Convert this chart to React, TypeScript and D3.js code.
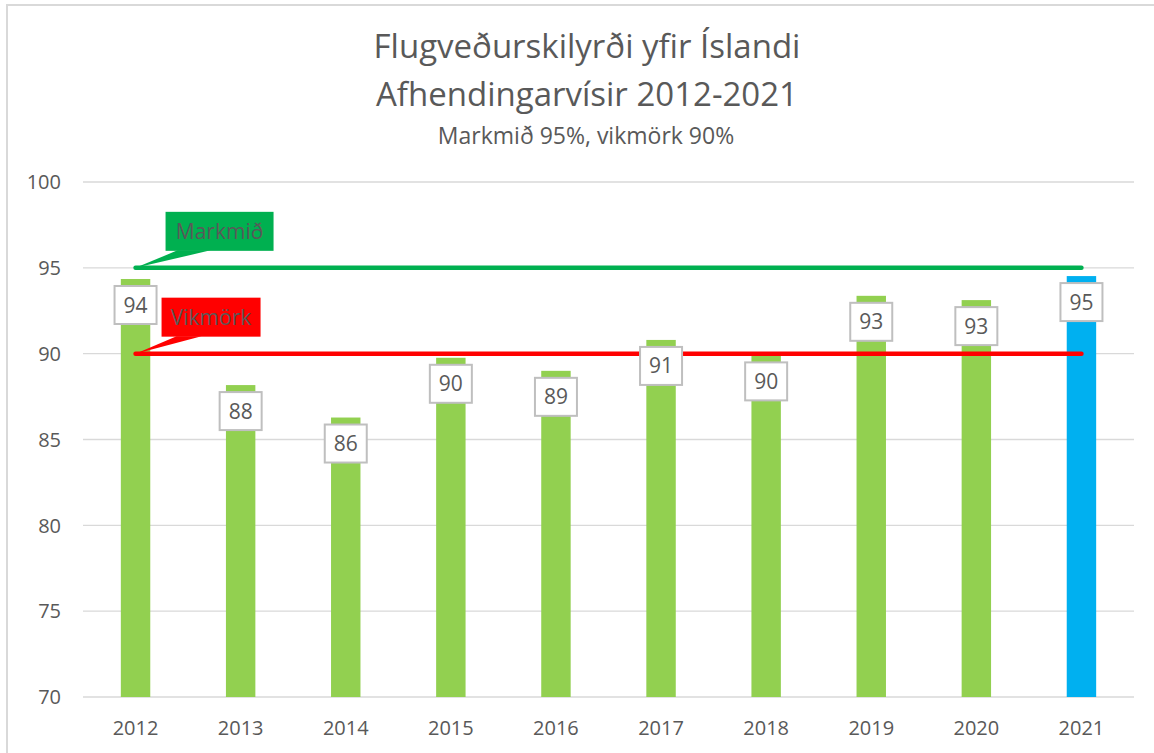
import React from "react";
import * as d3 from "d3";

const years = ["2012", "2013", "2014", "2015", "2016", "2017", "2018", "2019", "2020", "2021"];
const values = [94.35, 88.17, 86.28, 89.76, 89.0, 90.8, 89.9, 93.37, 93.12, 94.52];
const valueLabels = ["94", "88", "86", "90", "89", "91", "90", "93", "93", "95"];
const yTicks = [70, 75, 80, 85, 90, 95, 100];
const targetValue = 95;
const limitValue = 90;
const titleLines = ["Flugveðurskilyrði yfir Íslandi", "Afhendingarvísir 2012-2021"];
const subtitle = "Markmið 95%, vikmörk 90%";

const W = 1154;
const H = 753;
const FONT = "'Open Sans', sans-serif";
const TEXT = "#595959";
const GRID = "#d9d9d9";

export default function App() {
  const x = d3
    .scaleBand<string>()
    .domain(years)
    .range([83, 1134])
    .paddingInner(0.72)
    .paddingOuter(0.36);

  const y = d3.scaleLinear().domain([70, 100]).range([697, 182]);

  const cx = (yr: string) => (x(yr) || 0) + x.bandwidth() / 2;
  const xStart = cx(years[0]);
  const xEnd = cx(years[years.length - 1]);

  // callout shape: box above the anchor point with a wedge pointing at it
  const callout = (
    ax: number,
    ay: number,
    bx0: number,
    bx1: number,
    by0: number,
    by1: number,
    w0: number,
    w1: number,
    fill: string,
    label: string,
  ) => (
    <g>
      <rect x={ax + bx0} y={ay + by0} width={bx1 - bx0} height={by1 - by0} fill={fill} />
      <path
        d={`M${ax + w0},${ay + by1 - 0.5} L${ax},${ay} L${ax + w1},${ay + by1 - 0.5} Z`}
        fill={fill}
      />
      <text
        x={ax + (bx0 + bx1) / 2}
        y={ay + (by0 + by1) / 2}
        dy="0.36em"
        textAnchor="middle"
        fontSize={21}
        fill={TEXT}
      >
        {label}
      </text>
    </g>
  );

  return (
    <svg
      width={W}
      height={H}
      style={{ position: "absolute", left: 0, top: 0, fontFamily: FONT, background: "#fff" }}
    >
      <rect x={0} y={0} width={W} height={H} fill="#fff" />
      <rect x={7} y={5} width={W + 20} height={H + 20} fill="none" stroke={GRID} strokeWidth={2} />

      {/* titles */}
      <text x={587} y={58} textAnchor="middle" fontSize={33} fill={TEXT}>
        {titleLines[0]}
      </text>
      <text x={587} y={106} textAnchor="middle" fontSize={33} fill={TEXT}>
        {titleLines[1]}
      </text>
      <text x={586} y={144} textAnchor="middle" fontSize={23} fill={TEXT}>
        {subtitle}
      </text>

      {/* gridlines + y axis labels */}
      {yTicks.map((t) => (
        <g key={t}>
          <line x1={83} x2={1134} y1={y(t)} y2={y(t)} stroke={GRID} strokeWidth={1.3} />
          <text x={61} y={y(t)} dy="0.36em" textAnchor="end" fontSize={20} fill={TEXT}>
            {t}
          </text>
        </g>
      ))}

      {/* bars */}
      {years.map((yr, i) => (
        <rect
          key={yr}
          x={x(yr)}
          y={y(values[i])}
          width={x.bandwidth()}
          height={y(70) - y(values[i])}
          fill={i === years.length - 1 ? "#00b0f0" : "#92d050"}
        />
      ))}

      {/* x axis labels */}
      {years.map((yr) => (
        <text key={yr} x={cx(yr)} y={735} textAnchor="middle" fontSize={20} fill={TEXT}>
          {yr}
        </text>
      ))}

      {/* target and limit lines */}
      <line
        x1={xStart}
        x2={xEnd}
        y1={y(targetValue)}
        y2={y(targetValue)}
        stroke="#00b050"
        strokeWidth={4.5}
        strokeLinecap="round"
      />
      <line
        x1={xStart}
        x2={xEnd}
        y1={y(limitValue)}
        y2={y(limitValue)}
        stroke="#ff0000"
        strokeWidth={4.5}
        strokeLinecap="round"
      />

      {/* value labels */}
      {years.map((yr, i) => (
        <g key={yr}>
          <rect
            x={cx(yr) - 21}
            y={y(values[i]) + 7}
            width={42}
            height={38}
            fill="#fff"
            stroke="#bfbfbf"
            strokeWidth={2}
          />
          <text
            x={cx(yr)}
            y={y(values[i]) + 26}
            dy="0.36em"
            textAnchor="middle"
            fontSize={21}
            fill={TEXT}
          >
            {valueLabels[i]}
          </text>
        </g>
      ))}

      {/* callouts */}
      {callout(xStart, y(targetValue), 30, 138, -56, -17, 42, 75, "#00b050", "Markmið")}
      {callout(xStart, y(limitValue), 26, 125, -56, -17, 41, 66, "#ff0000", "Vikmörk")}
    </svg>
  );
}
